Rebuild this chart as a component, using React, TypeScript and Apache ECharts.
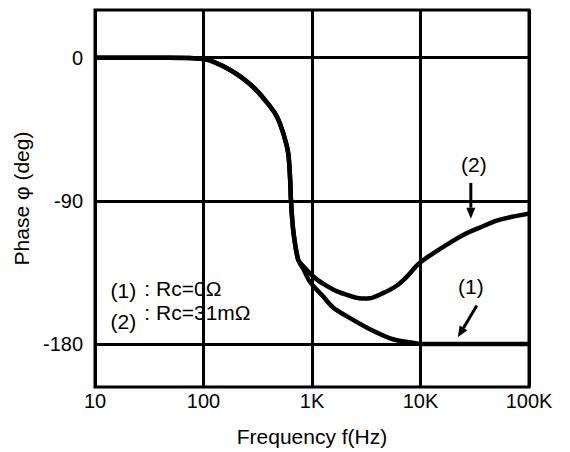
import React, { useEffect, useRef } from "react";
import * as echarts from "echarts";

// Curve (1): Rc = 0 Ω
const freq1 = [10, 47.5, 100, 176, 287, 412, 477, 542, 603, 629, 638, 670, 745, 828, 960, 1264, 1563, 2102, 3423, 5567, 9260, 10000, 100000];
const phase1 = [0, 0, -0.8, -7.7, -18.4, -30.7, -37.2, -47.2, -59.8, -76.7, -88, -108, -127, -132.5, -141, -150, -157, -162.6, -170.7, -177, -179.6, -180, -180];

// Curve (2): Rc = 31 mΩ
const freq2 = [10, 47.5, 100, 176, 287, 412, 477, 542, 603, 629, 638, 670, 745, 828, 960, 1115, 1264, 1500, 1811, 2890, 3423, 4510, 6070, 7500, 9460, 12200, 17500, 25000, 35200, 50500, 70800, 100000];
const phase2 = [0, 0, -0.8, -7.7, -18.4, -30.7, -37.2, -47.2, -59.8, -76.7, -88, -108, -127, -131, -135.5, -139.5, -142, -145, -147.6, -151.4, -151.2, -148, -143.2, -137.6, -130, -124.4, -117.5, -111.3, -106.8, -102.4, -99.9, -98];

const xTicks = [10, 100, 1000, 10000, 100000];
const xTickLabels = ["10", "100", "1K", "10K", "100K"];
const yTicks = [0, -90, -180];
const yTickLabels = ["0", "-90", "-180"];

const legendTexts = ["(1)", ": Rc=0Ω", "(2)", ": Rc=31mΩ"];
const legendAnchors = [[13.9, -146.4], [28.5, -145.1], [13.9, -165.6], [28.5, -160.2]];

const annoLabels = ["(2)", "(1)"];
const annoLabelAt = [[31000, -67.3], [29100, -143.8]];
const arrowFrom = [[29100, -78.7], [33040, -155.8]];
const arrowTo = [[29100, -101.2], [22080, -175.8]];

const FONT = "'Liberation Sans', Arial, Helvetica, sans-serif";

export default function App() {
  const ref = useRef<HTMLDivElement>(null);

  useEffect(() => {
    const chart = echarts.init(ref.current!, null, { renderer: "svg" });
    chart.setOption({
      animation: false,
      backgroundColor: "#fff",
      grid: {
        left: 95,
        right: 41,
        top: 10,
        bottom: 64,
        show: true,
        borderColor: "#000",
        borderWidth: 3,
        backgroundColor: "transparent",
      },
      xAxis: {
        type: "log",
        logBase: 10,
        min: xTicks[0],
        max: xTicks[xTicks.length - 1],
        name: "Frequency f(Hz)",
        nameLocation: "middle",
        nameGap: 39,
        nameTextStyle: { color: "#000", fontSize: 21, fontFamily: FONT },
        axisLine: { show: false },
        axisTick: { show: false },
        axisLabel: {
          color: "#000",
          fontSize: 20,
          fontFamily: FONT,
          margin: 4,
          formatter: (v: number) => {
            const i = Math.round(Math.log10(v)) - 1;
            return xTickLabels[i] ?? "";
          },
        },
        splitLine: { show: true, lineStyle: { color: "#000", width: 3 } },
      },
      yAxis: {
        type: "value",
        min: -207,
        max: 30,
        interval: 9,
        name: "Phase φ (deg)",
        nameLocation: "middle",
        nameRotate: 90,
        nameGap: 57,
        nameTextStyle: { color: "#000", fontSize: 21, fontFamily: FONT },
        axisLine: { show: false },
        axisTick: { show: false },
        splitLine: { show: false },
        axisLabel: {
          color: "#000",
          fontSize: 20,
          fontFamily: FONT,
          margin: 12,
          padding: [0, 0, 8, 0],
          formatter: (v: number) => {
            const r = Math.round(v);
            if (Math.abs(v - r) > 1e-6) return "";
            const i = yTicks.indexOf(r);
            return i >= 0 ? yTickLabels[i] : "";
          },
        },
      },
      series: [
        {
          type: "line",
          name: "(1)",
          data: freq1.map((f, i) => [f, phase1[i]]),
          showSymbol: false,
          smooth: 0.3,
          lineStyle: { color: "#000", width: 4.5 },
          z: 3,
          markLine: {
            silent: true,
            symbol: ["none", "none"],
            label: { show: false },
            lineStyle: { color: "#000", width: 3, type: "solid" },
            data: yTicks.map((v) => ({ yAxis: v })),
          },
        },
        {
          type: "line",
          name: "(2)",
          data: freq2.map((f, i) => [f, phase2[i]]),
          showSymbol: false,
          smooth: 0.3,
          lineStyle: { color: "#000", width: 4.5 },
          z: 3,
        },
      ],
    });

    const px = (p: number[]) => chart.convertToPixel({ gridIndex: 0 }, p) as number[];
    const graphics: any[] = [];
    legendTexts.forEach((t, i) => {
      const p = px(legendAnchors[i]);
      graphics.push({
        type: "text",
        x: p[0],
        y: p[1],
        style: { text: t, fill: "#000", font: `21px ${FONT}`, textAlign: "left", textVerticalAlign: "middle" },
      });
    });
    annoLabels.forEach((t, i) => {
      const p = px(annoLabelAt[i]);
      graphics.push({
        type: "text",
        x: p[0],
        y: p[1],
        style: { text: t, fill: "#000", font: `21px ${FONT}`, textAlign: "center", textVerticalAlign: "middle" },
      });
      const a = px(arrowFrom[i]);
      const b = px(arrowTo[i]);
      const dx = b[0] - a[0];
      const dy = b[1] - a[1];
      const len = Math.hypot(dx, dy);
      const ux = dx / len;
      const uy = dy / len;
      const headLen = 11;
      const halfW = 4.5;
      const bx = b[0] - ux * headLen;
      const by = b[1] - uy * headLen;
      graphics.push({
        type: "line",
        shape: { x1: a[0], y1: a[1], x2: bx, y2: by },
        style: { stroke: "#000", lineWidth: 3 },
      });
      graphics.push({
        type: "polygon",
        shape: {
          points: [
            [b[0], b[1]],
            [bx - uy * halfW, by + ux * halfW],
            [bx + uy * halfW, by - ux * halfW],
          ],
        },
        style: { fill: "#000" },
      });
    });
    chart.setOption({ graphic: graphics });

    return () => chart.dispose();
  }, []);

  return <div ref={ref} style={{ position: "fixed", left: 0, top: 0, width: 570, height: 452 }} />;
}
